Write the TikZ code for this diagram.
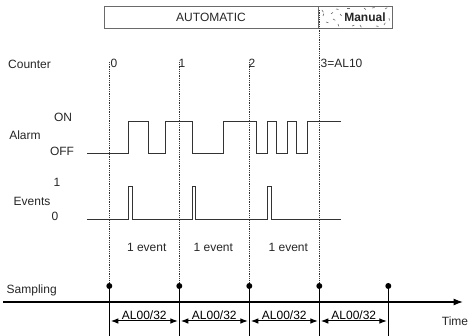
\documentclass[tikz,border=0pt]{standalone}
\usepackage{fontspec}
\setmainfont{Liberation Sans}
\usepackage{tikz}
\usetikzlibrary{arrows.meta,calc,positioning}
\definecolor{ink}{HTML}{262626}
\definecolor{wire}{HTML}{333333}
\definecolor{boxgray}{HTML}{6A6A6A}

\begin{document}
\begin{tikzpicture}[x=1pt, y=-1pt, >=Latex, font=\fontsize{12}{14}\selectfont, text=ink,
  guide/.style={wire, densely dotted, line width=0.8pt},
  signal/.style={wire, line width=0.9pt},
  lbl/.style={inner sep=0pt}]
  \useasboundingbox (0,0) rectangle (475,336);
  % mode bar
  \draw[boxgray, line width=0.9pt] (104,6) rectangle (318,28);
  \node[lbl] (auto) at (211,17) {AUTOMATIC};
  \draw[boxgray, line width=0.9pt] (318,6) rectangle (392,28);
  \foreach \px/\py/\a in {322/10/60, 326/22/20, 331/14/-40, 336/9/10, 338/24/70,
    333/19/30, 323/16/-70, 340/14/50, 347/8/0, 352/26/-20, 364/8/40,
    376/26/10, 385/9/-30, 389/18/80, 384/25/-60, 360/25/60, 372/8/-10}
    \draw[boxgray, line width=0.6pt] (\px,\py) -- ++(\a:2.6);
  \node[lbl, fill=white, inner sep=1pt, font=\fontsize{12}{14}\selectfont\bfseries] (manual) at (365,17) {Manual};
  % sampling instants
  \foreach \i/\x in {0/109.3, 1/179.3, 2/249.3, 3/319.3, 4/388.3}
    \coordinate (s\i) at (\x,286);
  \foreach \i in {0,1,2}
    \draw[guide] (s\i) -- ++(0,-224);
  \draw[guide] (s3) -- (s3 |- auto.south) -- ++(0,-11);
  % counter
  \node[lbl, anchor=west] at (8,64) {Counter};
  \node[lbl, anchor=west] at (110.5,63) {0};
  \node[lbl, anchor=west] at (178.5,63) {1};
  \node[lbl, anchor=west] at (248.5,63) {2};
  \node[lbl, anchor=west] at (320.5,63) {3=AL10};
  % alarm
  \node[lbl] at (25,135) {Alarm};
  \node[lbl] at (63,117) {ON};
  \node[lbl] at (62,151) {OFF};
  \draw[signal] (87,153) -| (128.3,121) -| (148.3,153) -| (165.7,121) -| (192.3,153)
    -| (223.3,121) -| (256,153) -| (267.7,121) -| (276.7,153) -| (287.3,121)
    -| (296.7,153) -| (307.7,121) -- (340.7,121);
  % events
  \node[lbl] at (32,201) {Events};
  \node[lbl] at (57,182) {1};
  \node[lbl] at (55,216) {0};
  \draw[signal] (87,219) -| (128.3,186) -| (132.3,219) -| (192.3,186) -| (195.7,219)
    -| (267.7,186) -| (271,219) -- (340.7,219);
  \node[lbl] at (146.7,247) {1 event};
  \node[lbl] at (213.3,247) {1 event};
  \node[lbl] at (288.3,247) {1 event};
  % time axis
  \node[lbl] at (31.7,290) {Sampling};
  \coordinate (t0) at (3,302);
  \coordinate (t1) at (463,302);
  \draw[->, black, line width=1.4pt] (t0) -- (t1);
  \node[lbl] at (455,321) {Time};
  \foreach \i in {0,...,4} {
    \draw[black, line width=1.1pt] (s\i) -- ++(0,50);
    \fill[black] (s\i) circle (3pt);
  }
  \foreach \i/\j in {0/1, 1/2, 2/3, 3/4}
    \draw[<->, black, line width=1pt] ($(s\i)+(1.5,35)$) -- ($(s\j)+(-1.5,35)$)
      node[midway, above, inner sep=0.6pt] {AL00/32};
\end{tikzpicture}
\end{document}
